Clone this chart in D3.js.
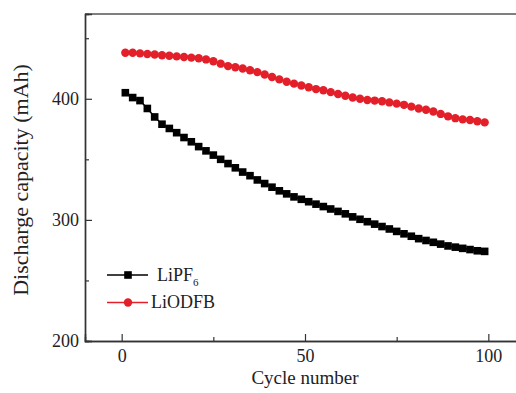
<!DOCTYPE html>
<html>
<head>
<meta charset="utf-8">
<script src="https://cdn.jsdelivr.net/npm/d3@7"></script>
<style>
  body { margin: 0; background: #fff; }
  svg { display: block; }
  text { font-family: "Liberation Serif", "Times New Roman", serif; fill: #222; }
</style>
</head>
<body>
<svg id="chart" width="516" height="393"></svg>
<script>
const cycles = d3.range(1, 100, 2);
const lipf6 = [405, 401, 398.5, 392, 385, 379, 375.5, 372, 368, 364.5,
  360.5, 357, 353.5, 350, 346.5, 343, 339.5, 336.5, 333, 330,
  327, 324, 321.5, 319, 317, 315, 313, 311, 309, 307,
  305, 302.5, 300.5, 298.5, 296.5, 294.5, 292.5, 290.5, 288.5, 286.5,
  284.5, 283, 281.5, 280, 278.5, 277.5, 276.5, 275.5, 274.5, 274];
const liodfb = [438, 438, 437.5, 437, 436.5, 436, 435.5, 435, 434.5, 434,
  433.5, 432.5, 431, 429, 427, 426, 425, 423.5, 422, 420,
  418, 416, 414, 412.5, 411, 409.5, 408, 407, 405.5, 404,
  402.5, 401, 400, 399, 398.5, 398, 397, 396, 395, 393.5,
  392, 391, 389.5, 387.5, 385.5, 384, 383, 382.5, 381.5, 380.5];
const xTicks = [0, 50, 100];
const xMinor = [25, 75];
const yTicks = [200, 300, 400];
const yMinor = [250, 350, 450];
const seriesNames = ["LiPF", "LiODFB"];
const colors = ["#000000", "#e3202a"];

const svg = d3.select("#chart");
const x = d3.scaleLinear().domain([-10, 110]).range([85, 525]);
const y = d3.scaleLinear().domain([200, 470]).range([341, 14]);
const axisColor = "#333";

// frame top
svg.append("line").attr("x1", x(-10)).attr("x2", 516).attr("y1", y(470)).attr("y2", y(470))
  .attr("stroke", "#555").attr("stroke-width", 1.3);

// x axis
const gx = svg.append("g").attr("transform", `translate(0,${y(200)})`);
gx.call(d3.axisBottom(x).tickValues(xTicks).tickSize(-7).tickPadding(8).tickFormat(d3.format("d")));
gx.append("g").call(d3.axisBottom(x).tickValues(xMinor).tickSize(-4).tickFormat(""));
gx.selectAll(".domain").attr("stroke", axisColor).attr("stroke-width", 1.4);
gx.selectAll(".tick line").attr("stroke", axisColor).attr("stroke-width", 1.2);
gx.selectAll("text").attr("font-size", 18).attr("font-family", "Liberation Serif").attr("fill", "#222");

// y axis
const gy = svg.append("g").attr("transform", `translate(${x(-10)},0)`);
gy.call(d3.axisLeft(y).tickValues(yTicks).tickSize(-7).tickPadding(6).tickFormat(d3.format("d")));
gy.append("g").call(d3.axisLeft(y).tickValues(yMinor).tickSize(-4).tickFormat(""));
gy.selectAll(".domain").attr("stroke", axisColor).attr("stroke-width", 1.4);
gy.selectAll(".tick line").attr("stroke", axisColor).attr("stroke-width", 1.2);
gy.selectAll("text").attr("font-size", 18).attr("font-family", "Liberation Serif").attr("fill", "#222");

// titles
svg.append("text").attr("x", 305).attr("y", 384).attr("text-anchor", "middle")
  .attr("font-size", 19).text("Cycle number");
svg.append("text").attr("transform", "translate(28,180) rotate(-90)").attr("text-anchor", "middle")
  .attr("font-size", 22).text("Discharge capacity (mAh)");

// series
const line = d3.line().x((d, i) => x(cycles[i])).y(d => y(d));
[lipf6, liodfb].forEach((vals, k) => {
  svg.append("path").datum(vals).attr("d", line).attr("fill", "none")
    .attr("stroke", colors[k]).attr("stroke-width", 1.5);
});
svg.append("g").selectAll("rect").data(lipf6).join("rect")
  .attr("x", (d, i) => x(cycles[i]) - 3.8).attr("y", d => y(d) - 3.8)
  .attr("width", 7.6).attr("height", 7.6).attr("fill", colors[0]);
svg.append("g").selectAll("circle").data(liodfb).join("circle")
  .attr("cx", (d, i) => x(cycles[i])).attr("cy", d => y(d)).attr("r", 4.2)
  .attr("fill", colors[1]);

// legend
const lg = svg.append("g");
const legY = [275, 302.5];
legY.forEach((ly, k) => {
  lg.append("line").attr("x1", 107).attr("x2", 148).attr("y1", ly).attr("y2", ly)
    .attr("stroke", colors[k]).attr("stroke-width", 1.5);
  if (k === 0) {
    lg.append("rect").attr("x", 128 - 3.8).attr("y", ly - 3.8).attr("width", 7.6).attr("height", 7.6).attr("fill", colors[0]);
  } else {
    lg.append("circle").attr("cx", 128).attr("cy", ly).attr("r", 4.2).attr("fill", colors[1]);
  }
});
const t1 = lg.append("text").attr("x", 157).attr("y", 281).attr("font-size", 18);
t1.append("tspan").text(seriesNames[0]);
t1.append("tspan").attr("font-size", 11).attr("dy", 5).text("6");
lg.append("text").attr("x", 151).attr("y", 308).attr("font-size", 18).text(seriesNames[1]);
</script>
</body>
</html>
